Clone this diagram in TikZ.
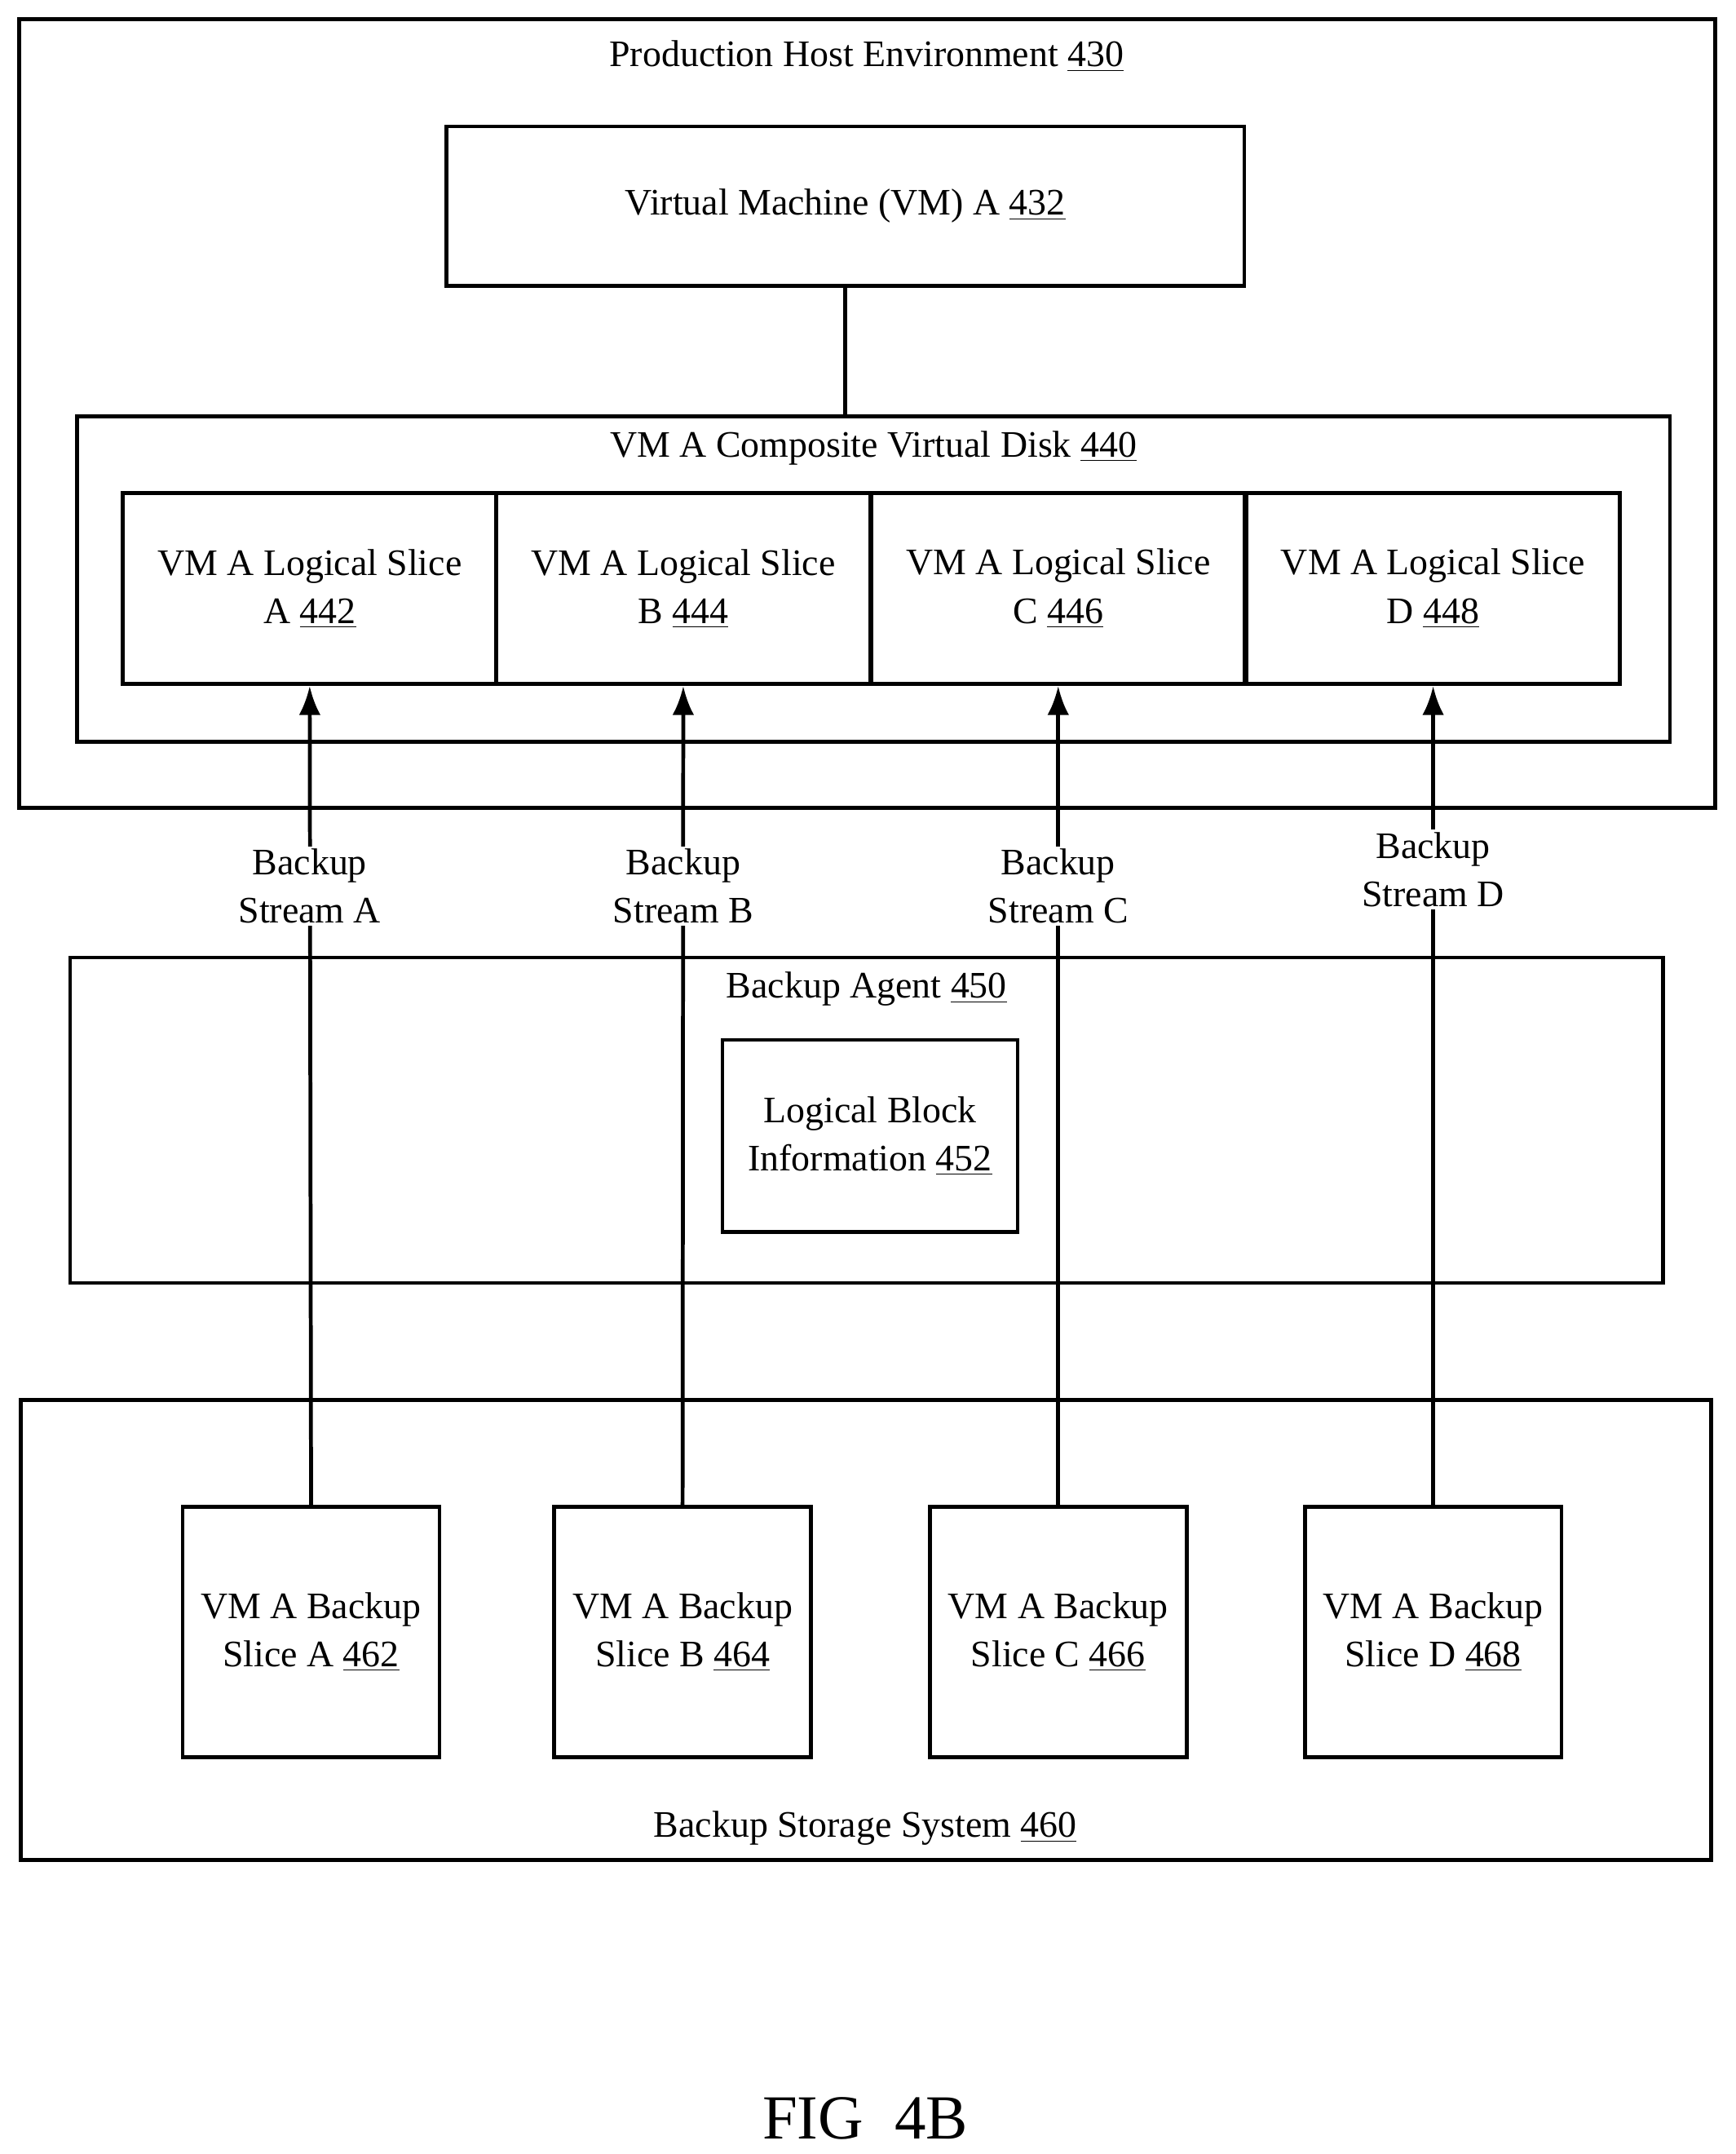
\documentclass[tikz,border=0pt]{standalone}
\usepackage{fontspec}
\setmainfont{Liberation Serif}
\usetikzlibrary{arrows.meta}
\tikzset{
  box/.style={draw, line width=1.6pt, inner sep=0pt},
  txt/.style={font=\fontsize{15.5}{20}\selectfont, align=center},
  stream/.style={line width=1.6pt, -{Latex[length=12pt,width=9pt]}},
}
\begin{document}
\begin{tikzpicture}[x=0.02cm, y=-0.02cm]
    \useasboundingbox (0,0) rectangle (1264,1568);
    % production host
    \node[box, minimum width=24.7cm, minimum height=11.48cm] (prod) at (631.5,301) {};
    \node[txt] (prodlbl) at (631,41) {Production Host Environment \underline{430}};
    \node[box, txt, minimum width=11.62cm, minimum height=2.32cm] (vm) at (615.5,150) {Virtual Machine (VM) A \underline{432}};
    \node[box, minimum width=23.2cm, minimum height=4.74cm] (disk) at (636,421.5) {};
    \node[txt] (disklbl) at (636,326) {VM A Composite Virtual Disk \underline{440}};
    \draw[line width=1.6pt] (vm.south) -- (vm.south |- disk.north);
    \foreach \n/\x/\l/\num in {a/225.5/A/442, b/497.5/B/444, c/770.5/C/446, d/1043.5/D/448}
      \node[box, txt, minimum width=5.44cm, minimum height=2.78cm] (ls\n) at (\x,428.5)
        {VM A Logical Slice\\ \l\ \underline{\num}};
    % backup agent
    \node[box, minimum width=23.2cm, minimum height=4.74cm] (agent) at (631,815.5) {};
    \node[txt] (agentlbl) at (631,720) {Backup Agent \underline{450}};
    \node[box, txt, minimum width=4.3cm, minimum height=2.8cm] (lbi) at (633.5,827) {Logical Block\\ Information \underline{452}};
    % backup storage
    \node[box, minimum width=24.62cm, minimum height=6.7cm] (store) at (630.5,1186.5) {};
    \node[txt] (storelbl) at (630,1331) {Backup Storage System \underline{460}};
    \foreach \n/\x/\l/\num in {a/226.5/A/462, b/497/B/464, c/770.5/C/466, d/1043.5/D/468}
      \node[box, txt, minimum width=3.74cm, minimum height=3.64cm] (bs\n) at (\x,1188)
        {VM A Backup\\ Slice \l\ \underline{\num}};
    % streams
    \foreach \n/\l/\y in {a/A/645, b/B/645, c/C/645, d/D/633} {
      \draw[stream] (bs\n.north) -- (ls\n.south);
      \node[txt, fill=white, inner sep=1pt] (st\n) at (ls\n.south |- 0,\y) {Backup\\ Stream \l};
    }
    \node[font=\fontsize{26}{30}\selectfont] (fig) at (630,1542) {FIG\ \ 4B};
\end{tikzpicture}
\end{document}
